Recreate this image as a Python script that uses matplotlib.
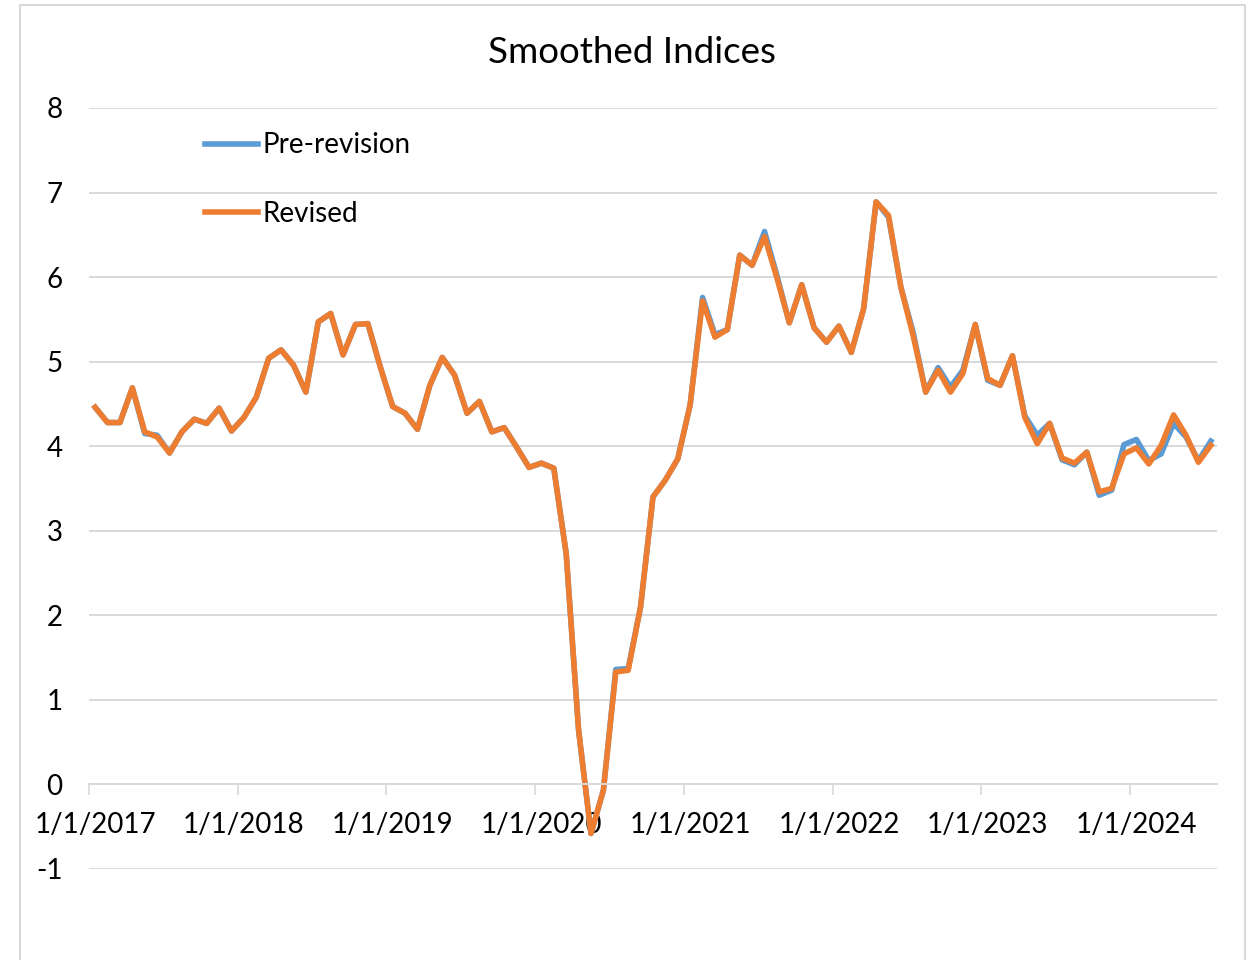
import matplotlib
matplotlib.use("Agg")
import matplotlib.pyplot as plt
from matplotlib.patches import Rectangle

# monthly values, Jan 2017 .. Jul 2024
revised = [4.46, 4.28, 4.28, 4.69, 4.17, 4.11, 3.92, 4.17, 4.32, 4.27, 4.45, 4.18,
           4.34, 4.58, 5.04, 5.14, 4.96, 4.64, 5.47, 5.57, 5.08, 5.44, 5.45, 4.94,
           4.47, 4.39, 4.20, 4.72, 5.05, 4.84, 4.39, 4.53, 4.17, 4.22, 3.99, 3.75,
           3.80, 3.74, 2.73, 0.64, -0.58, -0.07, 1.33, 1.35, 2.10, 3.40, 3.60, 3.85,
           4.49, 5.72, 5.29, 5.38, 6.26, 6.14, 6.48, 5.99, 5.46, 5.91, 5.40, 5.23,
           5.42, 5.11, 5.63, 6.89, 6.73, 5.88, 5.30, 4.64, 4.90, 4.64, 4.86, 5.44,
           4.80, 4.72, 5.07, 4.34, 4.03, 4.27, 3.86, 3.80, 3.93, 3.46, 3.50, 3.91,
           3.98, 3.79, 4.01, 4.37, 4.13, 3.81, 4.01]
pre_revision = [4.46, 4.28, 4.28, 4.69, 4.15, 4.13, 3.92, 4.17, 4.32, 4.27, 4.45, 4.18,
                4.34, 4.58, 5.04, 5.14, 4.96, 4.64, 5.47, 5.57, 5.08, 5.44, 5.45, 4.94,
                4.47, 4.39, 4.20, 4.72, 5.05, 4.84, 4.39, 4.53, 4.17, 4.22, 3.99, 3.75,
                3.80, 3.74, 2.73, 0.64, -0.58, -0.07, 1.36, 1.37, 2.10, 3.40, 3.60, 3.85,
                4.49, 5.76, 5.32, 5.38, 6.26, 6.14, 6.54, 6.02, 5.46, 5.91, 5.40, 5.23,
                5.42, 5.11, 5.63, 6.89, 6.71, 5.88, 5.34, 4.64, 4.93, 4.70, 4.90, 5.44,
                4.78, 4.72, 5.07, 4.36, 4.13, 4.27, 3.84, 3.78, 3.93, 3.42, 3.48, 4.02,
                4.08, 3.83, 3.91, 4.27, 4.11, 3.83, 4.06]
year_labels = ["1/1/2017", "1/1/2018", "1/1/2019", "1/1/2020",
               "1/1/2021", "1/1/2022", "1/1/2023", "1/1/2024"]

plt.rcParams['font.family'] = ['Lato', 'DejaVu Sans']
plt.rcParams['axes.unicode_minus'] = False

fig = plt.figure(figsize=(12.58, 9.6), dpi=100)
ax = fig.add_axes([0.0707, 0.0948, 0.8967, 0.7927])

x = list(range(len(revised)))
ax.plot(x, pre_revision, color='#5B9BD5', lw=4.0, label='Pre-revision', solid_joinstyle='round')
ax.plot(x, revised, color='#ED7D31', lw=4.0, label='Revised', solid_joinstyle='round')

ax.set_xlim(-0.5, len(revised) - 0.5)
ax.set_ylim(-1, 8)
ax.set_yticks(range(-1, 9))
ax.grid(axis='y', color='#D9D9D9', lw=1.4)
ax.set_axisbelow(True)

for s in ['top', 'right', 'left']:
    ax.spines[s].set_visible(False)
ax.spines['bottom'].set_position(('data', 0))
ax.spines['bottom'].set_color('#D9D9D9')
ax.spines['bottom'].set_linewidth(1.4)

# tick marks on the year boundaries, labels on the january points
ax.set_xticks([12 * k - 0.5 for k in range(len(year_labels))])
ax.set_xticklabels([])
ax.tick_params(axis='x', which='major', length=8, width=1.2, color='#D9D9D9', direction='out')
ax.set_xticks([12 * k for k in range(len(year_labels))], minor=True)
ax.set_xticklabels(year_labels, minor=True)
ax.tick_params(axis='x', which='minor', length=0, pad=19.5, labelsize=20)
ax.tick_params(axis='y', length=0, pad=19, labelsize=20)

# title is centred on the whole chart frame, not the plot area
fig.text(0.5024, 0.945, "Smoothed Indices", fontsize=26.5, ha='center', va='center')

ax.legend(loc='upper left', bbox_to_anchor=(0.103, 0.968), frameon=False,
          fontsize=20, handlelength=1.9, handletextpad=0.15, labelspacing=1.52,
          borderpad=0, borderaxespad=0)

fig.patches.append(Rectangle((0.0159, -0.01), 0.9738, 1.005, transform=fig.transFigure,
                             fill=False, edgecolor='#D9D9D9', lw=1.5))

fig.savefig("out.png", dpi=100)
